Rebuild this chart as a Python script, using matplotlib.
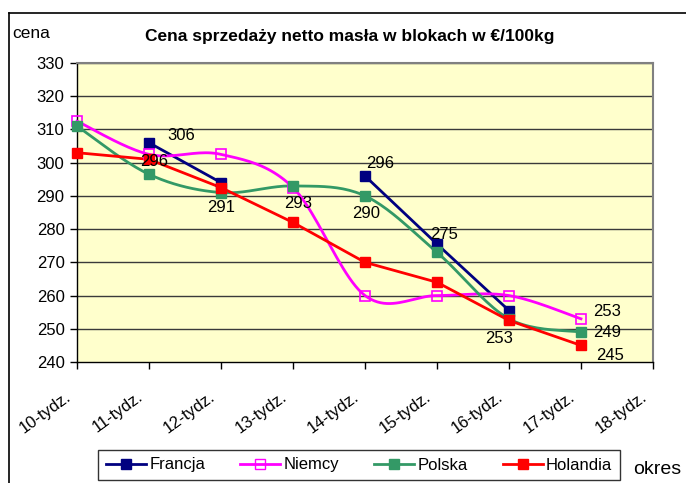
import numpy as np
import matplotlib
matplotlib.use("Agg")
import matplotlib.pyplot as plt
from matplotlib.lines import Line2D

plt.rcParams['font.family'] = ['Liberation Sans', 'DejaVu Sans']

categories = ["10-tydz.", "11-tydz.", "12-tydz.", "13-tydz.", "14-tydz.",
              "15-tydz.", "16-tydz.", "17-tydz.", "18-tydz."]
nan = np.nan
francja = [nan, 306, 294, nan, 296, 275.5, 255.5, nan, nan]
niemcy = [312.5, 302.5, 302.5, 292.5, 260, 260, 260, 253, nan]
polska = [311, 296.5, 291, 293, 290, 273, 253, 249, nan]
holandia = [303, 301, 292.5, 282, 270, 264, 252.5, 245, nan]

label_texts = ["306", "296", "291", "293", "296", "290", "275", "253", "253", "249", "245"]
label_series = ["francja", "polska", "polska", "polska", "francja", "polska",
                "francja", "polska", "niemcy", "polska", "holandia"]
label_idx = [1, 1, 2, 3, 4, 4, 5, 6, 7, 7, 7]
label_off = [(23, 5), (4, 9), (0, -11), (4, -13), (11, 9), (1, -13),
             (5, 7), (-7, -14), (19, 5), (19, 0), (21, -7)]

W, H = 686, 483
fig = plt.figure(figsize=(W / 100, H / 100), dpi=100)
fig.patch.set_facecolor("white")

ax = fig.add_axes([77 / W, 1 - 362 / H, (653 - 77) / W, (362 - 63) / H])
ax.set_facecolor("#FFFFCC")


def smooth(xs, ys, n=24):
    pts = np.column_stack([xs, ys])
    out = []
    m = len(pts)
    for i in range(m - 1):
        p0 = pts[i - 1] if i > 0 else pts[i]
        p1 = pts[i]
        p2 = pts[i + 1]
        p3 = pts[i + 2] if i + 2 < m else pts[i + 1]
        c1 = p1 + (p2 - p0) / 6
        c2 = p2 - (p3 - p1) / 6
        t = np.linspace(0, 1, n)[:, None]
        seg = ((1 - t) ** 3) * p1 + 3 * ((1 - t) ** 2) * t * c1 + 3 * (1 - t) * t ** 2 * c2 + t ** 3 * p2
        out.append(seg if i == 0 else seg[1:])
    out = np.vstack(out)
    return out[:, 0], out[:, 1]


x = np.arange(len(categories))
series = {"francja": francja, "niemcy": niemcy, "polska": polska, "holandia": holandia}
colors = {"francja": "#000080", "niemcy": "#FF00FF", "polska": "#339966", "holandia": "#FF0000"}
names = {"francja": "Francja", "niemcy": "Niemcy", "polska": "Polska", "holandia": "Holandia"}
smoothed = {"niemcy", "polska"}

for gy in range(250, 331, 10):
    ax.axhline(gy, color="#3a3a3a", lw=1.0, zorder=1)

for key, vals in series.items():
    v = np.array(vals, dtype=float)
    c = colors[key]
    if key in smoothed:
        ok = ~np.isnan(v)
        sx, sy = smooth(x[ok].astype(float), v[ok])
        ax.plot(sx, sy, color=c, lw=2.0, zorder=3, clip_on=False)
    else:
        ax.plot(x, v, color=c, lw=2.0, zorder=3, clip_on=False)
    if key == "niemcy":
        ax.plot(x, v, ls="none", marker="s", ms=6.5, mfc="none", mec=c, mew=1.2,
                zorder=4, clip_on=False)
    else:
        ax.plot(x, v, ls="none", marker="s", ms=6.5, mfc=c, mec=c, zorder=4, clip_on=False)

for txt, s, i, off in zip(label_texts, label_series, label_idx, label_off):
    ax.annotate(txt, xy=(x[i], series[s][i]), xytext=off, textcoords="offset points",
                ha="center", va="center", fontsize=12, color="black", zorder=5)

ax.set_xlim(0, len(categories) - 1)
ax.set_ylim(240, 330)
ax.set_yticks(np.arange(240, 331, 10))
ax.set_xticks(x)
ax.set_xticklabels([])
for i, cat in enumerate(categories):
    ax.annotate(cat, xy=(x[i], 0), xycoords=("data", "axes fraction"),
                xytext=(-8.6, -19.5), textcoords="offset points",
                rotation=36, ha="right", va="top", rotation_mode="anchor",
                fontsize=12, annotation_clip=False)
ax.tick_params(axis="y", labelsize=12, length=5, width=1, direction="out", pad=4)
ax.tick_params(axis="x", length=5, width=1, direction="out")

for sp in ["left", "bottom"]:
    ax.spines[sp].set_color("black")
    ax.spines[sp].set_linewidth(1.0)
for sp in ["top", "right"]:
    ax.spines[sp].set_color("#808080")
    ax.spines[sp].set_linewidth(1.5)

fig.text(350 / W, 1 - 36 / H, "Cena sprzedaży netto masła w blokach w €/100kg",
         ha="center", va="center", fontsize=12.5, fontweight="bold")
fig.text(12 / W, 1 - 34 / H, "cena", ha="left", va="center", fontsize=12.5)
fig.text(633 / W, 1 - 470 / H, "okres", ha="left", va="center", fontsize=14)

# outer frame (left and top edges visible)
fig.add_artist(Line2D([9 / W, 9 / W], [0, 1 - 13 / H], transform=fig.transFigure,
                      color="black", lw=1.2))
fig.add_artist(Line2D([9 / W, 1], [1 - 13 / H, 1 - 13 / H], transform=fig.transFigure,
                      color="black", lw=1.2))

handles = []
for key in series:
    c = colors[key]
    handles.append(Line2D([], [], color=c, lw=2.0, marker="s", ms=6.5,
                          mfc="none" if key == "niemcy" else c, mec=c))
leg = fig.legend(handles, [names[k] for k in series], ncol=4, loc="center",
                 bbox_to_anchor=(359 / W, 1 - 465 / H), fontsize=12, frameon=True,
                 fancybox=False, edgecolor="black", handlelength=2.4,
                 columnspacing=2.1, handletextpad=0.2, borderpad=0.45)
leg.get_frame().set_linewidth(1.0)

fig.savefig("out.png", dpi=100)
